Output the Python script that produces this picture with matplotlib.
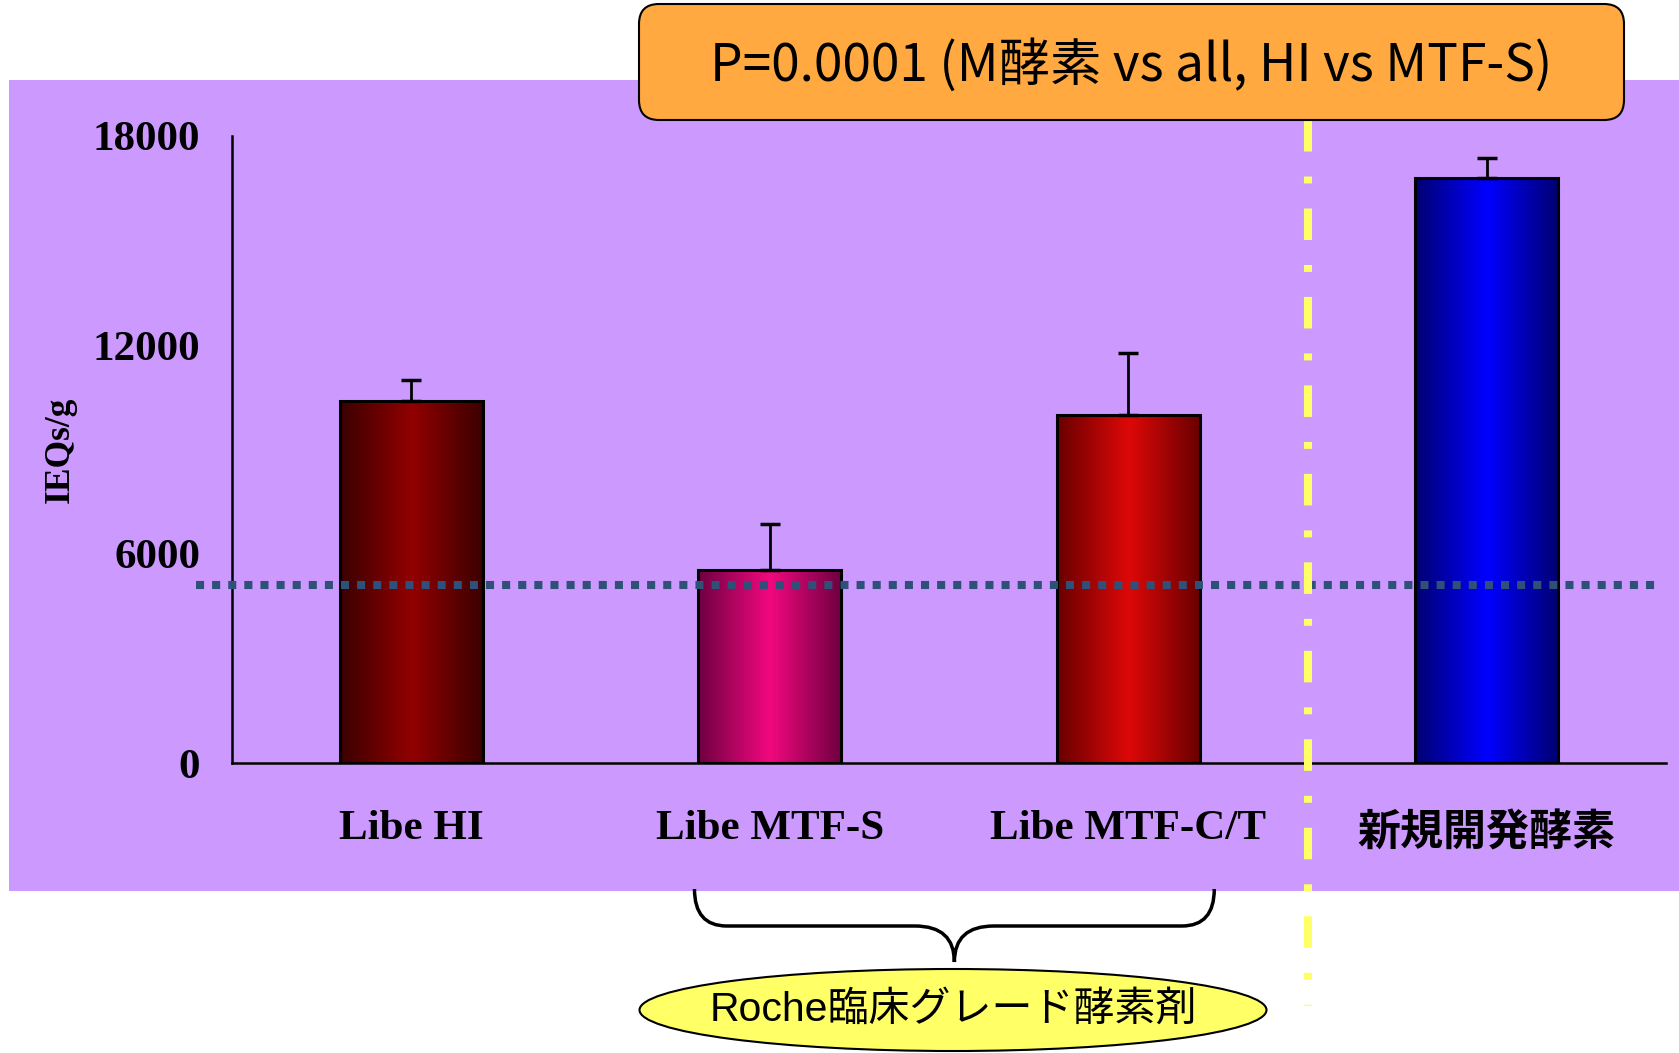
import numpy as np
import matplotlib
matplotlib.use("Agg")
import matplotlib.pyplot as plt
from matplotlib.colors import LinearSegmentedColormap
from matplotlib.patches import Rectangle, FancyBboxPatch, Ellipse, PathPatch
from matplotlib.path import Path
from matplotlib.lines import Line2D
import matplotlib.transforms as mtransforms

plt.rcParams['lines.scale_dashes'] = False

# data
categories = ["Libe HI", "Libe MTF-S", "Libe MTF-C/T", "新規開発酵素"]
values = [10400, 5530, 10000, 16800]
errors = [600, 1320, 1780, 580]
threshold = 5100
yticks = [0, 6000, 12000, 18000]
edge_colors = ["#3a0000", "#6e0040", "#680000", "#000070"]
center_colors = ["#920000", "#f2087f", "#de0808", "#0000ff"]

title_text = "P=0.0001 (M酵素 vs all, HI vs MTF-S)"
group_text = "Roche臨床グレード酵素剤"

W, H = 1679, 1053
fig = plt.figure(figsize=(W / 100, H / 100), dpi=100)
fig.patch.set_facecolor("white")

# purple slide background
fig.patches.append(Rectangle((9 / W, 1 - 891 / H), 1 - 9 / W, (891 - 80) / H,
                             transform=fig.transFigure, facecolor="#cc99ff",
                             edgecolor="none", zorder=-1))

ax = fig.add_axes([232 / W, 1 - 763 / H, (1666 - 232) / W, (763 - 136) / H])
ax.set_facecolor("none")

x = np.arange(len(categories))
bars = ax.bar(x, values, width=0.4, facecolor="none", edgecolor="black",
              linewidth=2.2, zorder=3)

grad = np.linspace(0, 1, 256).reshape(1, -1)
for b, ec, cc in zip(bars, edge_colors, center_colors):
    cmap = LinearSegmentedColormap.from_list("g", [ec, cc, ec])
    x0, y0 = b.get_x(), b.get_y()
    im = ax.imshow(grad, extent=[x0, x0 + b.get_width(), y0, y0 + b.get_height()],
                   aspect="auto", cmap=cmap, zorder=2, interpolation="bicubic")
    im.set_clip_path(b)

ax.errorbar(x, values, yerr=[np.zeros(len(errors)), errors], fmt="none",
            ecolor="black", elinewidth=2, capsize=7.5, capthick=2.5, zorder=4)

ax.set_xlim(-0.5, 3.5)
ax.set_ylim(0, 18000)
ax.set_yticks(yticks)
ax.set_yticklabels([str(t) for t in yticks])
ax.set_xticks(x)
ax.set_xticklabels(categories)
for lab in ax.get_yticklabels() + ax.get_xticklabels()[:3]:
    lab.set_fontfamily("Liberation Serif")
    lab.set_fontweight("bold")
    lab.set_fontsize(31)
lab = ax.get_xticklabels()[3]
lab.set_fontfamily("Noto Sans CJK JP")
lab.set_fontweight("bold")
lab.set_fontsize(31)
ax.tick_params(axis="y", length=0, pad=23)
ax.tick_params(axis="x", length=0, pad=34)

for s in ["top", "right"]:
    ax.spines[s].set_visible(False)
for s in ["left", "bottom"]:
    ax.spines[s].set_linewidth(1.8)
    ax.spines[s].set_zorder(5)

ax.set_ylabel("IEQs/g", fontfamily="Liberation Serif", fontweight="bold", fontsize=25.5)
ax.yaxis.set_label_coords(-0.108, 0.5)

# dotted reference line
ax.plot([-0.6, 3.48], [threshold, threshold], color="#2f5078", linewidth=5.8,
        linestyle=(0, (5.8, 5.8)), solid_capstyle="butt", dash_capstyle="butt",
        clip_on=False, zorder=6)

# yellow dash-dot separator
blend = mtransforms.blended_transform_factory(ax.transData, fig.transFigure)
sep = Line2D([2.5, 2.5], [1 - 120 / H, 1 - 1006 / H], transform=blend,
             color="#ffff66", linewidth=5.8, linestyle=(0, (22.7, 18, 5, 18)),
             dash_capstyle="butt", zorder=7)
ax.add_line(sep)
sep.set_clip_on(False)

# orange title box
inch = fig.dpi_scale_trans
fig.patches.append(FancyBboxPatch((6.39, 9.33), 16.24 - 6.39, 10.49 - 9.33,
                                  boxstyle="round,pad=0,rounding_size=0.2",
                                  transform=inch, facecolor="#ffa940",
                                  edgecolor="black", linewidth=1.5, zorder=8))
fig.text(0.6735, 1 - 66 / H, title_text, ha="center", va="center",
         fontsize=37, family=["Noto Sans CJK JP", "DejaVu Sans"], zorder=9)

# curly brace under MTF-S / MTF-C/T
L, R, C = 0.79, 2.24, 1.515
top, mid, tip = 1 - 889 / H, 1 - 926 / H, 1 - 962 / H
rx, rx2 = 0.09, 0.11
verts = [(L, top), (L, mid), (L + rx, mid), (C - rx2, mid), (C, mid), (C, tip),
         (C, mid), (C + rx2, mid), (R - rx, mid), (R, mid), (R, top)]
codes = [Path.MOVETO, Path.CURVE3, Path.CURVE3, Path.LINETO, Path.CURVE3, Path.CURVE3,
         Path.CURVE3, Path.CURVE3, Path.LINETO, Path.CURVE3, Path.CURVE3]
brace = PathPatch(Path(verts, codes), transform=blend, facecolor="none",
                  edgecolor="black", linewidth=2.5, zorder=8)
brace.set_clip_on(False)
ax.add_patch(brace)

# yellow ellipse label
fig.patches.append(Ellipse((9.53, 0.43), 6.27, 0.82, transform=inch,
                           facecolor="#ffff66", edgecolor="black", linewidth=1.5,
                           zorder=8))
fig.text(9.53 / (W / 100), 0.43 / (H / 100), group_text, ha="center", va="center",
         fontsize=29.5, family=["Liberation Sans", "Noto Sans CJK JP"], zorder=9)

fig.savefig("out.png", dpi=100)
